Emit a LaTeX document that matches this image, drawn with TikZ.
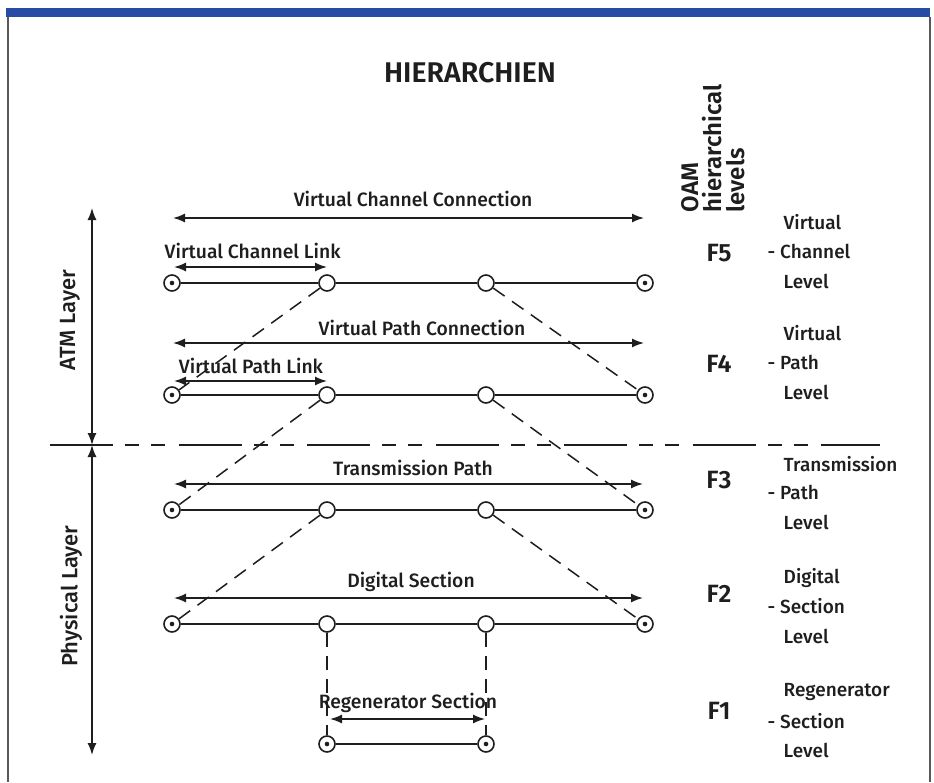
\documentclass[tikz,border=0pt]{standalone}
\usepackage{fontspec}
\setmainfont{Fira Sans Medium}[BoldFont={Fira Sans SemiBold}]
\usetikzlibrary{arrows.meta}
\definecolor{ink}{RGB}{30,30,30}
\definecolor{barblue}{RGB}{38,76,166}
\begin{document}
\begin{tikzpicture}[x=1pt,y=-1pt,
  line width=1.4pt, draw=ink, text=ink,
  endpt/.style={circle,draw=ink,fill=white,minimum size=16pt,inner sep=0pt,line width=1.6pt,
    path picture={\fill[ink] (path picture bounding box.center) circle (2.3pt);}},
  openpt/.style={circle,draw=ink,fill=white,minimum size=16pt,inner sep=0pt,line width=1.6pt},
  dim/.style={line width=1.5pt,{Latex[length=12pt,width=9pt]}-{Latex[length=12pt,width=9pt]}},
  link/.style={line width=1.5pt,draw=ink},
  tie/.style={line width=1.5pt,draw=ink,dash pattern=on 14pt off 9pt},
  lbl/.style={font=\fontsize{19.3}{19.3}\selectfont,inner sep=0pt},
  flbl/.style={font=\bfseries\fontsize{25}{25}\selectfont,inner sep=0pt},
  desc/.style={font=\fontsize{19}{19}\selectfont,inner sep=0pt,anchor=west},
  layer/.style={font=\fontsize{22}{22}\selectfont,inner sep=0pt,rotate=90}
]
\useasboundingbox (0,0) rectangle (934,782);
% frame
\fill[barblue] (6,8) rectangle (930,17);
\draw[line width=1.3pt,draw=black!65] (8,17) -- (8,782);
\draw[line width=1.3pt,draw=black!65] (930,17) -- (930,782);

% title
\node[font=\bfseries\fontsize{28.5}{28.5}\selectfont,inner sep=0pt] (title) at (470,73) {HIERARCHIEN};

% OAM heading
\node[font=\bfseries\fontsize{24}{23}\selectfont,rotate=90,align=left,anchor=north west,inner sep=0pt]
  (oam) at (681,213) {OAM\\hierarchical\\levels};

% F5 row
\node[endpt]  (a1) at (172,283) {};
\node[openpt] (a2) at (327,283) {};
\node[openpt] (a3) at (486,283) {};
\node[endpt]  (a4) at (645,283) {};
% F4 row
\node[endpt]  (b1) at (172,395) {};
\node[openpt] (b2) at (327,395) {};
\node[openpt] (b3) at (486,395) {};
\node[endpt]  (b4) at (645,395) {};
% F3 row
\node[endpt]  (c1) at (172,510) {};
\node[openpt] (c2) at (327,510) {};
\node[openpt] (c3) at (486,510) {};
\node[endpt]  (c4) at (645,510) {};
% F2 row
\node[endpt]  (d1) at (172,624) {};
\node[openpt] (d2) at (327,624) {};
\node[openpt] (d3) at (486,624) {};
\node[endpt]  (d4) at (645,624) {};
% F1 row
\node[endpt]  (e1) at (327,744) {};
\node[endpt]  (e2) at (486,744) {};

% solid links
\draw[link] (a1) -- (a2) -- (a3) -- (a4);
\draw[link] (b1) -- (b2) -- (b3) -- (b4);
\draw[link] (c1) -- (c2) -- (c3) -- (c4);
\draw[link] (d1) -- (d2) -- (d3) -- (d4);
\draw[link] (e1) -- (e2);

% dashed ties
\draw[tie] (a2) -- (b1);
\draw[tie] (a3) -- (b4);
\draw[tie] (b2) -- (c1);
\draw[tie] (b3) -- (c4);
\draw[tie] (c2) -- (d1);
\draw[tie] (c3) -- (d4);
\draw[tie] (d2) -- (e1);
\draw[tie] (d3) -- (e2);

% layer separator
\coordinate (sepL) at (50,445);
\coordinate (sepR) at (880,445);
\draw[line width=1.5pt,dash pattern=on 63pt off 12pt on 14pt off 12pt on 14pt off 13.5pt] (sepL) -- (sepR);

% dimension arrows
\coordinate (vccL) at (173,218); \coordinate (vccR) at (644,218);
\coordinate (vclL) at (174,267); \coordinate (vclR) at (327,267);
\coordinate (vpcL) at (173,343); \coordinate (vpcR) at (644,343);
\coordinate (vplL) at (174,381); \coordinate (vplR) at (327,381);
\coordinate (tpL) at (174,484);  \coordinate (tpR) at (643,484);
\coordinate (dsL) at (174,598);  \coordinate (dsR) at (643,598);
\coordinate (rsL) at (330,719);  \coordinate (rsR) at (485,719);
\draw[dim] (vccL) -- (vccR);
\draw[dim] (vclL) -- (vclR);
\draw[dim] (vpcL) -- (vpcR);
\draw[dim] (vplL) -- (vplR);
\draw[dim] (tpL) -- (tpR);
\draw[dim] (dsL) -- (dsR);
\draw[dim] (rsL) -- (rsR);

\node[lbl] (tvcc) at (413,199) {Virtual Channel Connection};
\node[lbl,anchor=west] (tvcl) at (164,251) {Virtual Channel Link};
\node[lbl] (tvpc) at (422,328) {Virtual Path Connection};
\node[lbl] (tvpl) at (251,366) {Virtual Path Link};
\node[lbl] (ttp) at (413,468) {Transmission Path};
\node[lbl] (tds) at (411,582) {Digital Section};
\node[lbl] (trs) at (408,703) {Regenerator Section};

% layer arrows
\coordinate (atmT) at (92,208);
\coordinate (mid) at (92,445);
\coordinate (phyB) at (92,755);
\draw[dim] (atmT) -- (mid);
\draw[dim] (mid) -- (phyB);
\node[layer] (atm) at (70,320) {ATM Layer};
\node[layer] (phy) at (71,596) {Physical Layer};

% F labels
\node[flbl] (f5) at (719,253) {F5};
\node[flbl] (f4) at (719,364) {F4};
\node[flbl] (f3) at (719,480) {F3};
\node[flbl] (f2) at (719,594) {F2};
\node[flbl] (f1) at (719,711) {F1};

% descriptions
\node[desc] (d5a) at (783,222) {Virtual};
\node[desc] (d5b) at (767,251) {- Channel};
\node[desc] (d5c) at (783,281) {Level};
\node[desc] (d4a) at (783,333) {Virtual};
\node[desc] (d4b) at (767,362) {- Path};
\node[desc] (d4c) at (783,392) {Level};
\node[desc] (d3a) at (783,464) {Transmission};
\node[desc] (d3b) at (767,492) {- Path};
\node[desc] (d3c) at (783,522) {Level};
\node[desc] (d2a) at (783,578) {Digital};
\node[desc] (d2b) at (767,606) {- Section};
\node[desc] (d2c) at (783,636) {Level};
\node[desc] (d1a) at (783,692) {Regenerator};
\node[desc] (d1b) at (767,721) {- Section};
\node[desc] (d1c) at (783,750) {Level};
\end{tikzpicture}
\end{document}
